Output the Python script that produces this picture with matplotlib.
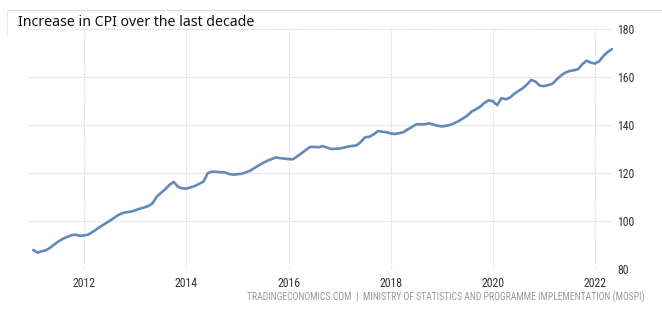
import matplotlib
matplotlib.use("Agg")
import matplotlib.pyplot as plt
from matplotlib.lines import Line2D
from matplotlib import font_manager as fm

# Monthly CPI values, Jan 2011 .. May 2022
start_year = 2011
cpi_2011 = [87.9, 86.8, 87.4, 87.8, 88.9, 90.3, 91.6, 92.6, 93.4, 94.1, 94.3, 93.8]
cpi_2012 = [94.0, 94.4, 95.5, 96.7, 97.9, 99.0, 100.1, 101.3, 102.5, 103.3, 103.7, 103.9]
cpi_2013 = [104.5, 105.1, 105.6, 106.2, 107.3, 110.1, 111.7, 113.2, 115.0, 116.3, 114.3, 113.6]
cpi_2014 = [113.5, 114.0, 114.6, 115.5, 116.4, 119.9, 120.6, 120.5, 120.3, 120.3, 119.6, 119.3]
cpi_2015 = [119.5, 119.7, 120.3, 121.0, 122.1, 123.2, 124.2, 125.1, 125.8, 126.5, 126.2, 126.0]
cpi_2016 = [125.8, 125.7, 126.9, 128.2, 129.5, 130.8, 130.9, 130.7, 131.2, 130.6, 130.0, 130.1]
cpi_2017 = [130.2, 130.6, 131.0, 131.3, 131.5, 133.0, 134.9, 135.1, 136.1, 137.5, 137.2, 137.0]
cpi_2018 = [136.5, 136.25, 136.6, 137.0, 138.2, 139.2, 140.3, 140.3, 140.3, 140.7, 140.2, 139.7]
cpi_2019 = [139.4, 139.7, 140.0, 140.8, 141.7, 142.8, 143.9, 145.6, 146.5, 147.6, 149.2, 150.3]
cpi_2020 = [149.9, 148.3, 151.2, 150.7, 151.4, 153.0, 154.2, 155.3, 156.9, 158.8, 158.1, 156.4]
cpi_2021 = [156.2, 156.6, 157.2, 159.0, 160.6, 161.8, 162.5, 162.8, 163.2, 165.3, 166.8, 166.0]
cpi_2022 = [165.6, 166.6, 168.8, 170.5, 171.6]

year_ticks = [2012, 2014, 2016, 2018, 2020, 2022]
y_ticks = [80, 100, 120, 140, 160, 180]

title = "Increase in CPI over the last decade"
source = "TRADINGECONOMICS.COM  |  MINISTRY OF STATISTICS AND PROGRAMME IMPLEMENTATION (MOSPI)"

values = (cpi_2011 + cpi_2012 + cpi_2013 + cpi_2014 + cpi_2015 + cpi_2016 +
          cpi_2017 + cpi_2018 + cpi_2019 + cpi_2020 + cpi_2021 + cpi_2022)
dates = [start_year + i / 12 for i in range(len(values))]

# pick a condensed face if one is installed
names = {f.name for f in fm.fontManager.ttflist}
narrow_name = None
for pref in ["Liberation Sans Narrow", "Roboto Condensed", "Open Sans Condensed"]:
    if pref in names:
        narrow_name = pref
        break
if narrow_name:
    tick_font = dict(family=[narrow_name, "DejaVu Sans"])
else:
    tick_font = dict(family=["DejaVu Sans"], stretch="condensed")

W, H = 662, 311
fig = plt.figure(figsize=(W / 100, H / 100), dpi=100)
fig.patch.set_facecolor("white")

left, right, top, bottom = 27, 613, 29, 269
ax = fig.add_axes([left / W, 1 - bottom / H, (right - left) / W, (bottom - top) / H])

ax.plot(dates, values, color="#6389b8", lw=1.9, solid_capstyle="round", zorder=3)

ax.set_xlim(2010.878, 2022.352)
ax.set_ylim(80, 180)
ax.set_xticks(year_ticks)
ax.set_xticklabels([str(y) for y in year_ticks])
ax.set_yticks(y_ticks)
ax.set_yticklabels([str(v) for v in y_ticks])

ax.yaxis.tick_right()
ax.tick_params(axis="both", length=0, colors="#333333", labelsize=8.5)
ax.tick_params(axis="x", pad=6)
ax.tick_params(axis="y", pad=3)
for lab in ax.get_xticklabels() + ax.get_yticklabels():
    lab.set(**tick_font)

for s in ax.spines.values():
    s.set_visible(False)
ax.grid(True, color="#dcdcdc", lw=0.8, linestyle=(0, (1.5, 1)))
ax.set_axisbelow(True)

fig.text(18 / W, 1 - 26.5 / H, title, fontsize=10.2, family=["Noto Sans", "DejaVu Sans"],
         color="#111111", ha="left", va="baseline")
fig.text(645 / W, 1 - 297 / H, source, fontsize=6.9, color="#999999",
         ha="right", va="center", **tick_font)

# light frame line at top / left
fig.add_artist(Line2D([7 / W, 1], [1 - 10 / H, 1 - 10 / H], transform=fig.transFigure,
                      color="#dddddd", lw=0.8))
fig.add_artist(Line2D([7 / W, 7 / W], [1 - 10 / H, 1 - 35 / H], transform=fig.transFigure,
                      color="#ececec", lw=0.8))

fig.savefig("out.png", dpi=100, facecolor="white")
